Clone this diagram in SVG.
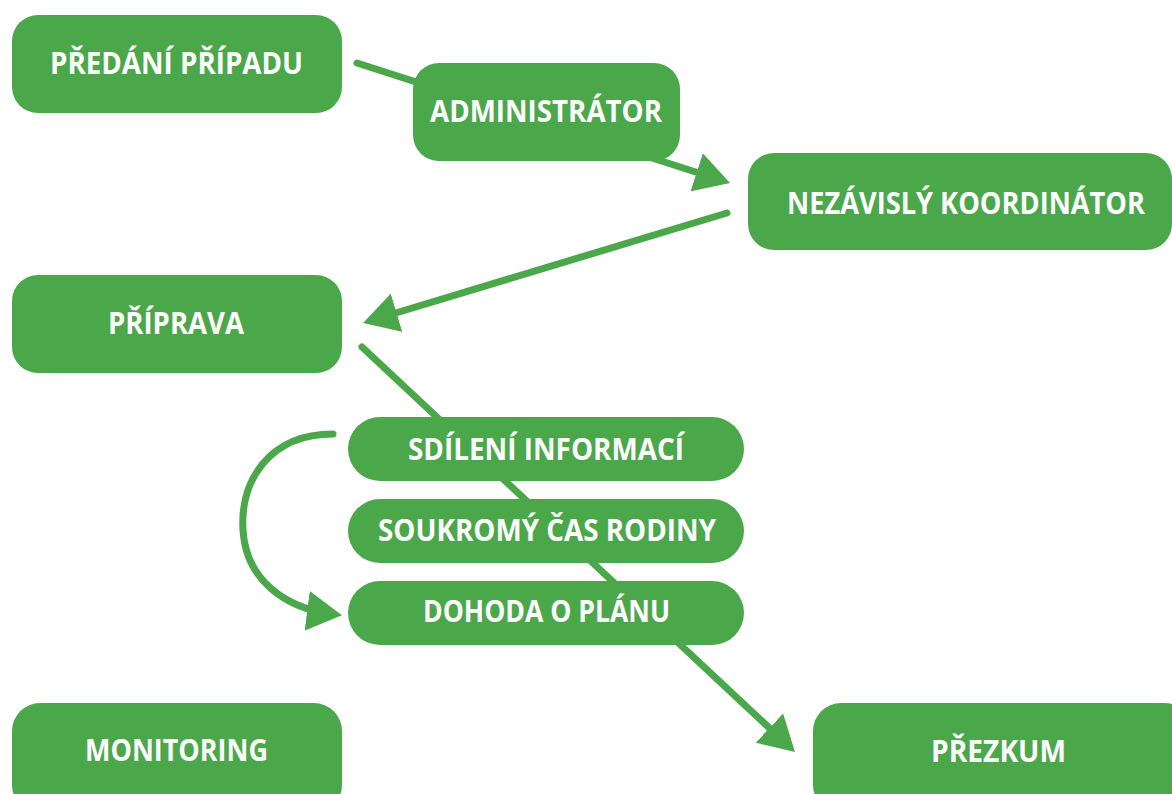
<svg xmlns="http://www.w3.org/2000/svg" width="1172" height="794" viewBox="0 0 1172 794">
<style>
.box{fill:#4ba84a}
.lbl{fill:#ffffff;font-family:"Open Sans","Noto Sans","Liberation Sans",sans-serif;font-weight:bold;font-size:30px;text-anchor:middle}
.con{fill:none;stroke:#4ba84a;stroke-width:7;stroke-linecap:round}
</style>
<defs>
<marker id="ah" markerUnits="userSpaceOnUse" viewBox="0 0 35 40" markerWidth="35" markerHeight="40" refX="25" refY="20" orient="auto">
<path d="M0,0 L35,20 L0,40 Z" fill="#4ba84a"/>
</marker>
</defs>
<rect width="1172" height="794" fill="#ffffff"/>
<g id="connectors">
<path class="con" d="M357,63 L720.5,180" marker-end="url(#ah)"/>
<path class="con" d="M727,213 L372.6,320" marker-end="url(#ah)"/>
<path class="con" d="M362,347 L787.7,745.2" marker-end="url(#ah)"/>
<path class="con" d="M333,434 C270,434 240,480 243,530 C246,580 285,608 332,614" marker-end="url(#ah)"/>
</g>
<g id="predani">
<rect class="box" x="12" y="15" width="330" height="98" rx="26"/>
<text class="lbl" x="176.5" y="74" textLength="253" lengthAdjust="spacingAndGlyphs">PŘEDÁNÍ PŘÍPADU</text>
</g>
<g id="administrator">
<rect class="box" x="413" y="63" width="267" height="98" rx="26"/>
<text class="lbl" x="546" y="122" textLength="232" lengthAdjust="spacingAndGlyphs">ADMINISTRÁTOR</text>
</g>
<g id="koordinator">
<rect class="box" x="748" y="153" width="424" height="97" rx="26"/>
<text class="lbl" x="966" y="214" textLength="358" lengthAdjust="spacingAndGlyphs">NEZÁVISLÝ KOORDINÁTOR</text>
</g>
<g id="priprava">
<rect class="box" x="12" y="275" width="330" height="98" rx="26"/>
<text class="lbl" x="176" y="334" textLength="136" lengthAdjust="spacingAndGlyphs">PŘÍPRAVA</text>
</g>
<g id="sdileni">
<rect class="box" x="348" y="417" width="396" height="64" rx="32"/>
<text class="lbl" x="546" y="460" textLength="276" lengthAdjust="spacingAndGlyphs">SDÍLENÍ INFORMACÍ</text>
</g>
<g id="soukromy">
<rect class="box" x="348" y="499" width="396" height="64" rx="32"/>
<text class="lbl" x="547" y="541" textLength="338" lengthAdjust="spacingAndGlyphs">SOUKROMÝ ČAS RODINY</text>
</g>
<g id="dohoda">
<rect class="box" x="348" y="581" width="396" height="64" rx="32"/>
<text class="lbl" x="546.5" y="622" textLength="247" lengthAdjust="spacingAndGlyphs">DOHODA O PLÁNU</text>
</g>
<g id="monitoring">
<rect class="box" x="12" y="703" width="330" height="110" rx="28"/>
<text class="lbl" x="176.5" y="761" textLength="183" lengthAdjust="spacingAndGlyphs">MONITORING</text>
</g>
<g id="prezkum">
<rect class="box" x="813" y="703" width="380" height="110" rx="28"/>
<text class="lbl" x="998.5" y="762" textLength="135" lengthAdjust="spacingAndGlyphs">PŘEZKUM</text>
</g>
</svg>
